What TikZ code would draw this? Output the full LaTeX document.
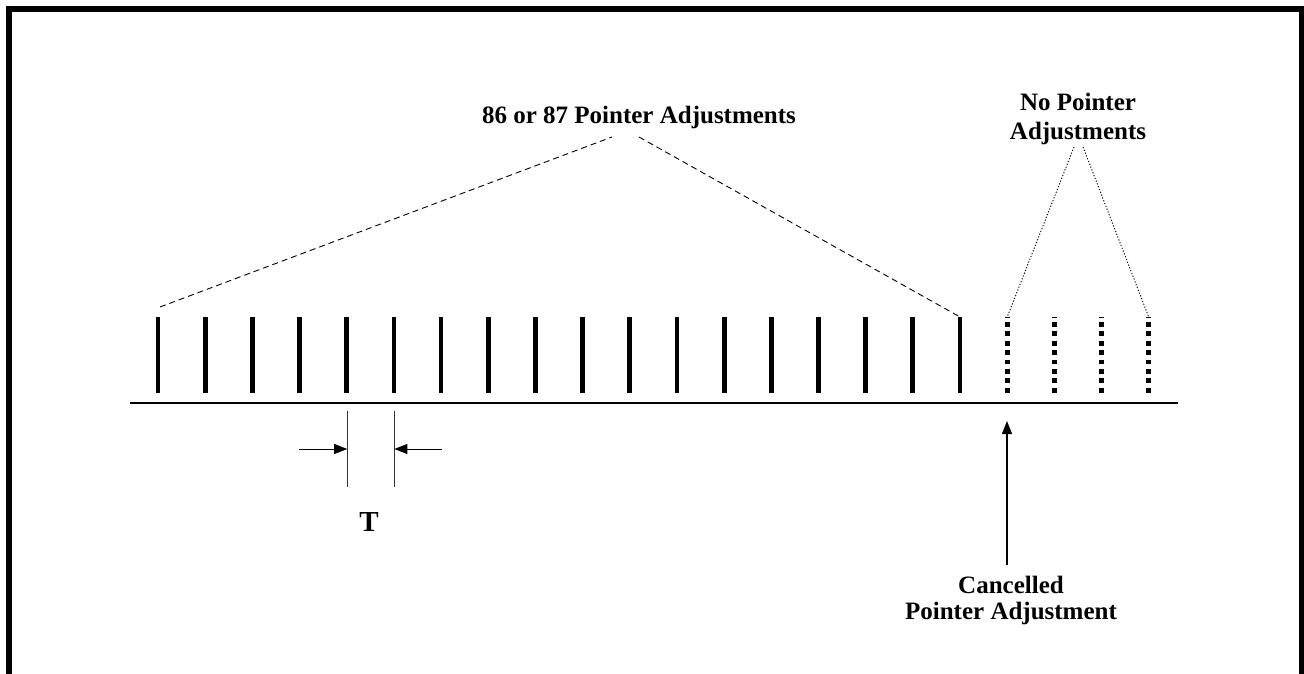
\documentclass[tikz,border=0pt]{standalone}
\usepackage{fontspec}
\setmainfont{Liberation Serif}
\usetikzlibrary{arrows.meta}
\begin{document}
\begin{tikzpicture}[x=1pt,y=-1pt,
  lbl/.style={font=\bfseries\fontsize{25}{29}\selectfont, align=center, inner sep=0pt},
  solidtick/.style={line width=4.8pt},
  dottick/.style={line width=4.8pt, dash pattern=on 4.7pt off 4.7pt},
  brace/.style={line width=0.9pt, dash pattern=on 6pt off 4pt},
  dotbrace/.style={line width=0.9pt, dash pattern=on 1.2pt off 1.8pt},
  dimline/.style={line width=1pt, draw=black!80},
  arr/.style={line width=1.2pt, -{Triangle[length=13pt,width=10pt]}},
]
\useasboundingbox (0,0) rectangle (1304,674);
\draw[line width=6pt] (9,9) rectangle (1302,720);
% axis
\coordinate (axL) at (130,403);
\coordinate (axR) at (1178,403);
\draw[line width=2pt] (axL) -- (axR);
% solid ticks
\foreach \i in {0,...,17} {
  \pgfmathsetmacro\xx{158+47.18*\i}
  \coordinate (t\i) at (\xx,317);
  \coordinate (tb\i) at (\xx,393);
  \draw[solidtick] (t\i) -- (tb\i);
}
% dotted ticks
\foreach \i in {1,...,4} {
  \pgfmathsetmacro\xx{960+47.18*\i}
  \coordinate (d\i) at (\xx,317);
  \draw[dottick] (\xx,322) -- (\xx,395);
  \draw[line width=0.8pt] (\xx-2.5,317) -- (\xx+2.5,317);
}
% top label and dashed lines
\node[lbl, anchor=base] (top) at (639,124) {86 or 87 Pointer Adjustments};
\coordinate (bS) at (160,307);
\coordinate (bL) at (612,137);
\coordinate (bR) at (639,137);
\draw[brace] (bS) -- (bL);
\draw[brace] (bR) -- (t17);
% no pointer adjustments
\node[lbl] (np) at (1078,119) {No Pointer\\Adjustments};
\coordinate (nL) at (1074,147);
\coordinate (nR) at (1083,147);
\draw[dotbrace] (nL) -- (d1);
\draw[dotbrace] (nR) -- (d4);
% cancelled
\node[lbl, font=\bfseries\fontsize{25}{26}\selectfont] (cp) at (1011,600) {Cancelled\\Pointer Adjustment};
\coordinate (cB) at (1007,565);
\coordinate (cT) at (1007,421);
\draw[arr] (cB) -- (cT);
% T dimension
\node[lbl, anchor=base, font=\bfseries\fontsize{29}{30}\selectfont] (T) at (369,531) {T};
\coordinate (v1t) at (347.2,411);
\coordinate (v1b) at (347.2,487);
\coordinate (v2t) at (394.4,411);
\coordinate (v2b) at (394.4,487);
\draw[dimline] (v1t) -- (v1b);
\draw[dimline] (v2t) -- (v2b);
\coordinate (a1) at (299,449);
\coordinate (a1e) at (347.2,449);
\coordinate (a2) at (442,449);
\coordinate (a2e) at (394.4,449);
\draw[arr, line width=1pt] (a1) -- (a1e);
\draw[arr, line width=1pt] (a2) -- (a2e);
\end{tikzpicture}
\end{document}
